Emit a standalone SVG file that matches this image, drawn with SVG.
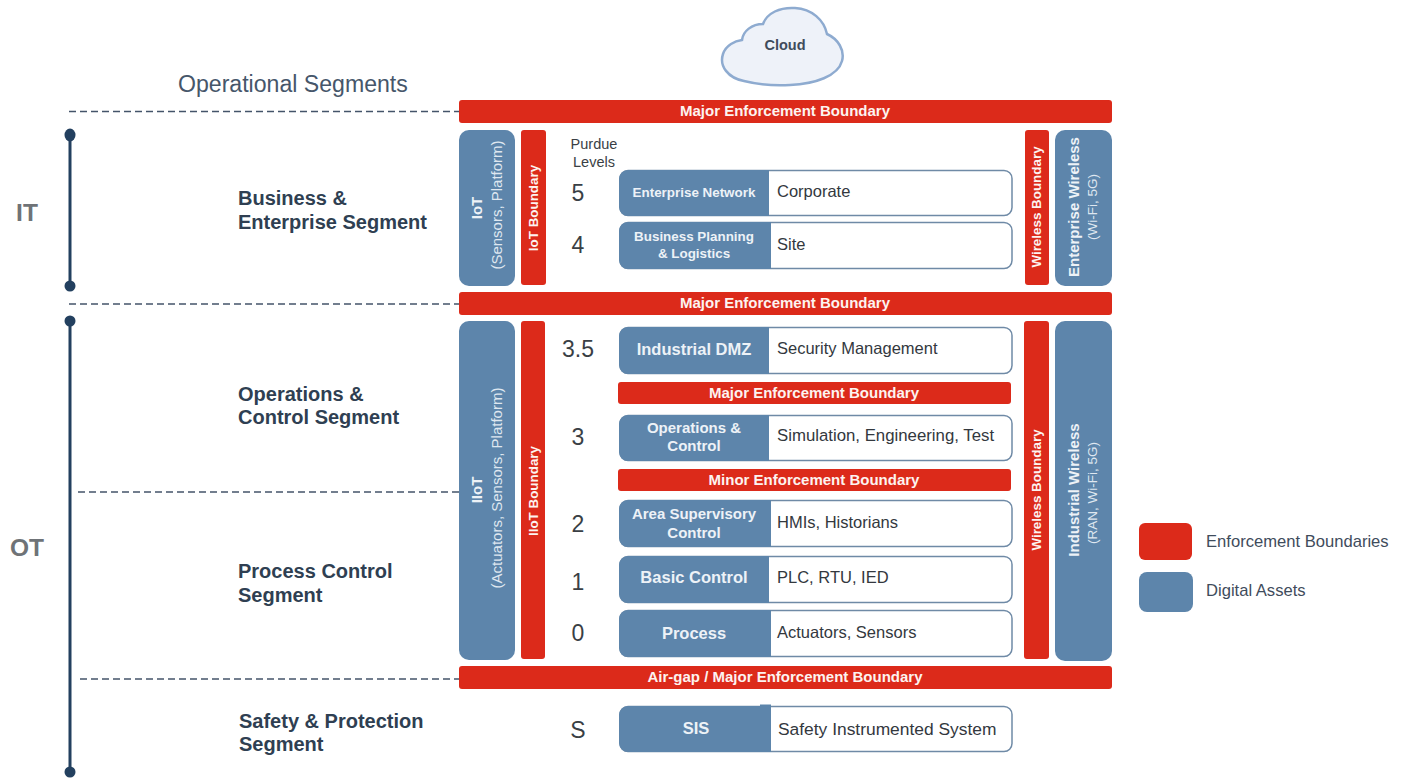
<svg xmlns="http://www.w3.org/2000/svg" width="1402" height="778" viewBox="0 0 1402 778">
<style>
text{font-family:"Liberation Sans",Arial,sans-serif}
.red{fill:#dc2a1a}
.blue{fill:#5d85ab}
.rowbox{fill:#fff;stroke:#6f8aa6;stroke-width:1.5}
.dash{stroke:#44546a;stroke-width:1.5;stroke-dasharray:7 4;fill:none}
.spine{stroke:#23405f;stroke-width:3;fill:none}
.dot{fill:#23405f}
.bar{fill:#fdf3f0;font-weight:bold;font-size:15px;text-anchor:middle}
.vb{fill:#fdf3f0;font-weight:bold;font-size:13.400px;text-anchor:middle}
.wb{fill:#edf2f7;font-weight:bold;font-size:13.400px;text-anchor:middle}
.wm{fill:#edf2f7;font-weight:bold;font-size:15px;text-anchor:middle}
.wl{fill:#edf2f7;font-weight:bold;font-size:16.500px;text-anchor:middle}
.wn{fill:#dfe7f0;font-size:15px;text-anchor:middle}
.wn2{fill:#dfe7f0;font-size:13.500px;text-anchor:middle}
.seg{fill:#2f3f52;font-weight:bold;font-size:20px}
.lvl{fill:#3a3f45;font-size:23px;text-anchor:middle}
.desc{fill:#33383e;font-size:16.500px}
.side{fill:#6f7377;font-weight:bold;font-size:24.500px;text-anchor:middle}
.leg{fill:#3f4c5c;font-size:16.600px}
</style>
<g id="connectors">
<line class="dash" x1="69" y1="111.500" x2="459" y2="111.500"/>
<line class="dash" x1="69" y1="304" x2="459" y2="304"/>
<line class="dash" x1="78" y1="492" x2="459" y2="492"/>
<line class="dash" x1="80" y1="679" x2="459" y2="679"/>
<line class="spine" x1="70" y1="135" x2="70" y2="286"/>
<line class="spine" x1="70" y1="321" x2="70" y2="772"/>
<ellipse class="dot" cx="70" cy="135" rx="5.500" ry="6.500"/>
<circle class="dot" cx="70" cy="286" r="5.500"/>
<circle class="dot" cx="70" cy="321" r="5.500"/>
<circle class="dot" cx="70" cy="772" r="5.500"/>
</g>
<g id="labels">
<text x="178" y="92" font-size="23.100" fill="#46566a">Operational Segments</text>
<text class="side" x="27" y="221">IT</text>
<text class="side" x="27" y="556">OT</text>
<text class="seg" x="238" y="205">Business &amp;</text>
<text class="seg" x="238" y="229">Enterprise Segment</text>
<text class="seg" x="238" y="401">Operations &amp;</text>
<text class="seg" x="238" y="424">Control Segment</text>
<text class="seg" x="238" y="578">Process Control</text>
<text class="seg" x="238" y="602">Segment</text>
<text class="seg" x="239" y="728">Safety &amp; Protection</text>
<text class="seg" x="239" y="751">Segment</text>
<text x="594" y="149" font-size="14.500" fill="#3a3f45" text-anchor="middle">Purdue</text>
<text x="594" y="167" font-size="14.500" fill="#3a3f45" text-anchor="middle">Levels</text>
<text class="lvl" x="578" y="201">5</text>
<text class="lvl" x="578" y="253">4</text>
<text class="lvl" x="578" y="357">3.5</text>
<text class="lvl" x="578" y="445">3</text>
<text class="lvl" x="578" y="532">2</text>
<text class="lvl" x="578" y="590">1</text>
<text class="lvl" x="578" y="641">0</text>
<text class="lvl" x="578" y="738">S</text>
</g>
<g id="cloud">
<path d="M744 81C728 78 719 66 723 54C726 45 735 41 742 40C743 31 752 24 763 24C767 13 780 7 795 8C812 9 824 20 827 34C838 39 845 50 842 61C838 76 815 84 790 85C772 86 756 84 744 81Z" fill="#eef2f9" stroke="#8eabd0" stroke-width="2.500"/>
<text x="785" y="50" font-size="14.500" font-weight="bold" fill="#3f4c5c" text-anchor="middle">Cloud</text>
</g>
<g id="boundary-top">
<rect class="red" x="459" y="100" width="653" height="23" rx="3"/>
<text class="bar" x="785" y="115.500">Major Enforcement Boundary</text>
</g>
<g id="boundary-it-ot">
<rect class="red" x="459" y="292" width="653" height="23" rx="3"/>
<text class="bar" x="785" y="308">Major Enforcement Boundary</text>
</g>
<g id="boundary-airgap">
<rect class="red" x="459" y="666" width="653" height="23" rx="3"/>
<text class="bar" x="785" y="682">Air-gap / Major Enforcement Boundary</text>
</g>
<g id="iot">
<rect class="blue" x="459" y="130" width="56" height="156" rx="10"/>
<text class="wm" transform="translate(482 208) rotate(-90)">IoT</text>
<text class="wn" transform="translate(502 205) rotate(-90)">(Sensors, Platform)</text>
</g>
<g id="iot-boundary">
<rect class="red" x="521" y="130" width="25" height="155" rx="3"/>
<text class="vb" transform="translate(538 208) rotate(-90)">IoT Boundary</text>
</g>
<g id="iiot">
<rect class="blue" x="459" y="321" width="56" height="339" rx="10"/>
<text class="wm" transform="translate(482 490) rotate(-90)">IIoT</text>
<text class="wn" transform="translate(502 488) rotate(-90)">(Actuators, Sensors, Platform)</text>
</g>
<g id="iiot-boundary">
<rect class="red" x="521" y="321" width="24" height="338" rx="3"/>
<text class="vb" transform="translate(538 491) rotate(-90)">IIoT Boundary</text>
</g>
<g id="wireless-boundary-it">
<rect class="red" x="1025" y="130" width="24" height="155" rx="3"/>
<text class="vb" transform="translate(1041 207) rotate(-90)">Wireless Boundary</text>
</g>
<g id="enterprise-wireless">
<rect class="blue" x="1055" y="130" width="57" height="156" rx="10"/>
<text class="wm" transform="translate(1079 207) rotate(-90)">Enterprise Wireless</text>
<text class="wn2" transform="translate(1097 207) rotate(-90)">(Wi-Fi, 5G)</text>
</g>
<g id="wireless-boundary-ot">
<rect class="red" x="1024" y="321" width="25" height="338" rx="3"/>
<text class="vb" transform="translate(1041 490) rotate(-90)">Wireless Boundary</text>
</g>
<g id="industrial-wireless">
<rect class="blue" x="1055" y="321" width="57" height="340" rx="10"/>
<text class="wm" transform="translate(1079 490) rotate(-90)">Industrial Wireless</text>
<text class="wn2" transform="translate(1097 493) rotate(-90)">(RAN, Wi-Fi, 5G)</text>
</g>
<g id="level-5">
<rect class="rowbox" x="620" y="170.500" width="392" height="45" rx="8"/>
<path class="blue" d="M769 170H628a9 9 0 0 0-9 9v28a9 9 0 0 0 9 9H769Z"/>
<text class="wb" x="694" y="197">Enterprise Network</text>
<text class="desc" x="777" y="197">Corporate</text>
</g>
<g id="level-4">
<rect class="rowbox" x="620" y="222.500" width="392" height="46" rx="8"/>
<path class="blue" d="M771 222H628a9 9 0 0 0-9 9v29a9 9 0 0 0 9 9H771Z"/>
<text class="wb" x="694" y="241">Business Planning</text>
<text class="wb" x="694" y="258">&amp; Logistics</text>
<text class="desc" x="777" y="250">Site</text>
</g>
<g id="level-3-5">
<rect class="rowbox" x="620" y="327.500" width="392" height="46" rx="8"/>
<path class="blue" d="M769 327H628a9 9 0 0 0-9 9v29a9 9 0 0 0 9 9H769Z"/>
<text class="wl" x="694" y="355">Industrial DMZ</text>
<text class="desc" x="777" y="354">Security Management</text>
</g>
<g id="boundary-major-mid">
<rect class="red" x="618" y="382" width="393" height="22" rx="3"/>
<text class="bar" x="814" y="398">Major Enforcement Boundary</text>
</g>
<g id="level-3">
<rect class="rowbox" x="620" y="415.500" width="392" height="45" rx="8"/>
<path class="blue" d="M769 415H628a9 9 0 0 0-9 9v28a9 9 0 0 0 9 9H769Z"/>
<text class="wm" x="694" y="433">Operations &amp;</text>
<text class="wm" x="694" y="451">Control</text>
<text class="desc" x="777" y="441" font-size="16.800" style="font-size:16.800px">Simulation, Engineering, Test</text>
</g>
<g id="boundary-minor">
<rect class="red" x="618" y="469" width="393" height="22" rx="3"/>
<text class="bar" x="814" y="485">Minor Enforcement Boundary</text>
</g>
<g id="level-2">
<rect class="rowbox" x="620" y="500.500" width="392" height="46" rx="8"/>
<path class="blue" d="M771 500H628a9 9 0 0 0-9 9v29a9 9 0 0 0 9 9H771Z"/>
<text class="wm" x="694" y="519">Area Supervisory</text>
<text class="wm" x="694" y="538">Control</text>
<text class="desc" x="777" y="528">HMIs, Historians</text>
</g>
<g id="level-1">
<rect class="rowbox" x="620" y="556.500" width="392" height="46" rx="8"/>
<path class="blue" d="M769 556H628a9 9 0 0 0-9 9v29a9 9 0 0 0 9 9H769Z"/>
<text class="wl" x="694" y="583">Basic Control</text>
<text class="desc" x="777" y="583">PLC, RTU, IED</text>
</g>
<g id="level-0">
<rect class="rowbox" x="620" y="610.500" width="392" height="46" rx="8"/>
<path class="blue" d="M771 610H628a9 9 0 0 0-9 9v29a9 9 0 0 0 9 9H771Z"/>
<text class="wl" x="694" y="639">Process</text>
<text class="desc" x="777" y="638">Actuators, Sensors</text>
</g>
<g id="level-s">
<rect class="rowbox" x="620" y="706.500" width="392" height="45" rx="8"/>
<path class="blue" d="M771 704.500H760V706H628a9 9 0 0 0-9 9v28a9 9 0 0 0 9 9H771Z"/>
<text class="wl" x="696" y="734">SIS</text>
<text class="desc" x="778" y="735" style="font-size:17.400px">Safety Instrumented System</text>
</g>
<g id="legend-enforcement">
<rect class="red" x="1139" y="523" width="53" height="37" rx="6"/>
<text class="leg" x="1206" y="547">Enforcement Boundaries</text>
</g>
<g id="legend-assets">
<rect class="blue" x="1139" y="572" width="54" height="40" rx="8"/>
<text class="leg" x="1206" y="596">Digital Assets</text>
</g>
</svg>
